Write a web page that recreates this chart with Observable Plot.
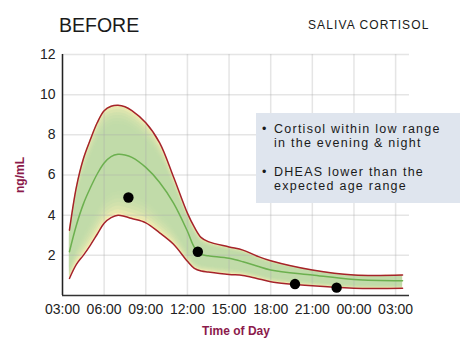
<!DOCTYPE html>
<html><head><meta charset="utf-8">
<script src="https://cdn.jsdelivr.net/npm/d3@7"></script>
<script src="https://cdn.jsdelivr.net/npm/@observablehq/plot@0.6"></script>
<style>
body{margin:0;background:#fff;}
#wrap{position:relative;width:470px;height:360px;font-family:"Liberation Sans",Arial,sans-serif;color:#1a1a1a;}
#head{position:relative;height:40px;}
.title{position:absolute;left:59px;top:16px;font-size:19.5px;line-height:1;}
.sub{position:absolute;left:308px;top:19px;font-size:12px;letter-spacing:1.1px;line-height:1;}
#note{position:absolute;left:256px;top:113px;width:204px;height:90px;background:#dfe5ee;box-sizing:border-box;padding-top:9px;font-size:12.5px;letter-spacing:1.25px;line-height:14.3px;color:#1a1a1a;}
#note .p{position:relative;padding-left:18px;}
#note .p + .p{margin-top:14.3px;}
#note .b{position:absolute;left:6px;top:0;letter-spacing:0;}
</style>
</head><body>
<div id="wrap">
  <div id="head"><span class="title">BEFORE</span><span class="sub">SALIVA CORTISOL</span></div>
  <div id="chart"></div>
  <div id="note">
    <div class="p"><span class="b">•</span>Cortisol within low range<br>in the evening &amp; night</div>
    <div class="p"><span class="b">•</span>DHEAS lower than the<br>expected age range</div>
  </div>
</div>
<script>
// hours since midnight (values past 24 are the next day)
const hours  = [3.5, 4, 4.5, 5, 5.5, 6, 6.5, 7, 7.5, 8, 9, 10, 11, 12, 12.5, 13, 13.5, 15, 16, 17, 18, 21, 24, 27.5];
const upper  = [3.25, 5.4, 6.8, 7.75, 8.6, 9.2, 9.42, 9.47, 9.4, 9.2, 8.6, 7.6, 5.9, 4.1, 3.4, 2.88, 2.68, 2.42, 2.26, 1.97, 1.73, 1.27, 1.02, 1.02];
const mean   = [2.18, 3.5, 4.55, 5.35, 6.05, 6.6, 6.92, 7.03, 7.0, 6.88, 6.38, 5.63, 4.6, 3.2, 2.4, 2.05, 1.98, 1.85, 1.68, 1.47, 1.27, 1.02, 0.8, 0.74];
const lower  = [0.85, 1.55, 2.0, 2.5, 3.05, 3.6, 3.88, 4.0, 3.93, 3.83, 3.62, 3.12, 2.55, 1.7, 1.35, 1.22, 1.17, 1.05, 1.0, 0.85, 0.69, 0.48, 0.36, 0.36];
const sampleHours  = [7.75, 12.75, 19.75, 22.75];
const sampleValues = [4.88, 2.18, 0.57, 0.39];
const xTicks = [3, 6, 9, 12, 15, 18, 21, 24, 27];
const yTicks = [2, 4, 6, 8, 10, 12];
const xLabel = "Time of Day";
const yLabel = "ng/mL";

const rows = hours.map((h, i) => ({h, hi: upper[i], m: mean[i], lo: lower[i]}));
const samples = sampleHours.map((h, i) => ({h, v: sampleValues[i]}));
const fmt = h => String(h % 24).padStart(2, "0") + ":00";
const curve = "catmull-rom";
const shades = [0.97, 0.91, 0.85, 0.79, 0.73, 0.67, 0.61];
const maroon = "#8b1a4b";

const plot = Plot.plot({
  width: 470, height: 320,
  marginTop: 14, marginLeft: 62, marginRight: 61, marginBottom: 65,
  style: {fontFamily: "'Liberation Sans',Arial,sans-serif", fontSize: "14px", color: "#222", background: "#fff"},
  x: {domain: [3, 28]},
  y: {domain: [0, 12]},
  marks: [
    Plot.areaY(rows, {x: "h", y1: "lo", y2: "hi", fill: "#faeeb3", curve}),
    ...shades.map(k => Plot.areaY(rows, {
      x: "h",
      y1: d => d.m - k * (d.m - d.lo),
      y2: d => d.m + k * (d.hi - d.m),
      fill: "#bcdaa9", fillOpacity: 0.3, curve
    })),
    Plot.gridX(xTicks, {stroke: "#aaa", strokeOpacity: 0.3, strokeWidth: 1.5}),
    Plot.gridY(yTicks, {stroke: "#aaa", strokeOpacity: 0.3, strokeWidth: 1.5}),
    Plot.line(rows, {x: "h", y: "hi", stroke: "#a5232a", strokeWidth: 1.5, curve}),
    Plot.line(rows, {x: "h", y: "lo", stroke: "#a5232a", strokeWidth: 1.5, curve}),
    Plot.line(rows, {x: "h", y: "m", stroke: "#6cb04f", strokeWidth: 1.5, curve}),
    Plot.dot(samples, {x: "h", y: "v", r: 5.2, fill: "#000"}),
    Plot.ruleX([3], {stroke: "#222", strokeWidth: 1.5}),
    Plot.ruleY([0], {stroke: "#333", strokeWidth: 1.5}),
    Plot.axisX(xTicks, {tickSize: 0, tickPadding: 9, tickFormat: fmt, label: null}),
    Plot.axisY(yTicks, {tickSize: 0, tickPadding: 7, label: null}),
    Plot.text([xLabel], {frameAnchor: "bottom", dy: 39, lineAnchor: "bottom", textAnchor: "middle", fill: maroon, fontWeight: "bold", fontSize: 12}),
    Plot.text([yLabel], {frameAnchor: "left", dx: -42, rotate: -90, textAnchor: "middle", fill: maroon, fontWeight: "bold", fontSize: 12})
  ]
});
document.getElementById("chart").appendChild(plot);
</script>
</body></html>
